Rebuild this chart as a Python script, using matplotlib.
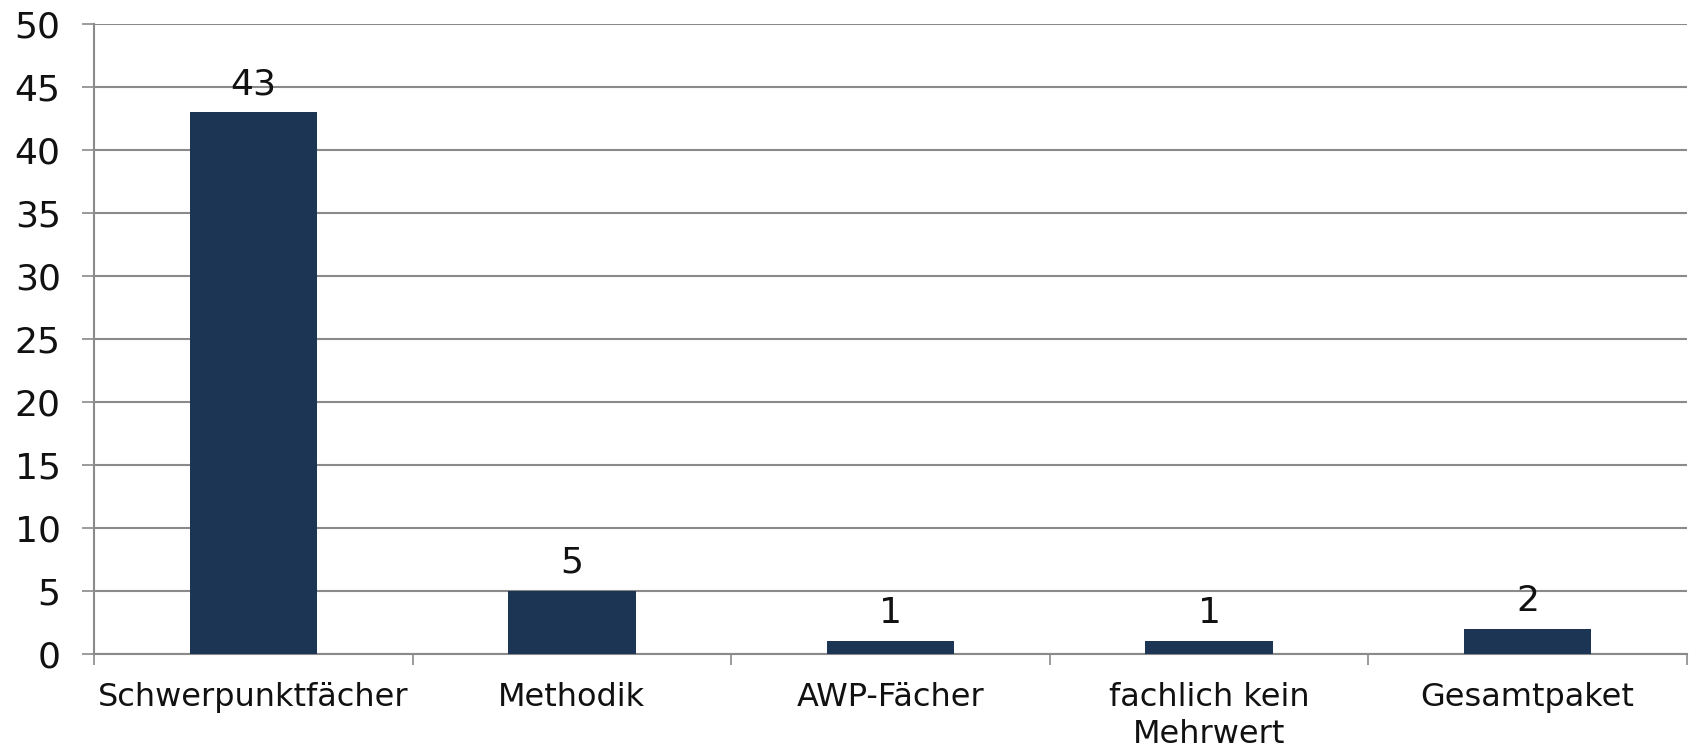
import matplotlib
matplotlib.use("Agg")
import matplotlib.pyplot as plt

categories = ["Schwerpunktfächer", "Methodik", "AWP-Fächer", "fachlich kein\nMehrwert", "Gesamtpaket"]
values = [43, 5, 1, 1, 2]
yticks = [0, 5, 10, 15, 20, 25, 30, 35, 40, 45, 50]

plt.rcParams['font.family'] = ['DejaVu Sans']
fig = plt.figure(figsize=(16.92, 7.48), dpi=100)
ax = fig.add_axes([0.0556, 0.1257, 0.9414, 0.8423])

grid_c = "#8a8a8a"
x = list(range(len(categories)))
bars = ax.bar(x, values, width=0.40, color="#1d3554", zorder=3)
for xi, v in zip(x, values):
    ax.annotate(str(v), (xi, v), xytext=(0, 8), textcoords="offset points",
                ha="center", va="bottom", fontsize=26, color="#111111")

ax.set_xlim(-0.5, len(categories) - 0.5)
ax.set_ylim(0, 50)
ax.set_yticks(yticks)
ax.yaxis.grid(True, color=grid_c, linewidth=1.5, zorder=0)
ax.tick_params(axis="y", length=9, width=1.2, color=grid_c, labelsize=26, pad=15, labelcolor="#111111")

ax.set_xticks(x)
ax.set_xticklabels(categories, fontsize=23, color="#111111", linespacing=1.25)
ax.tick_params(axis="x", which="major", length=0, pad=20)
ax.set_xticks([i - 0.5 for i in range(len(categories) + 1)], minor=True)
ax.tick_params(axis="x", which="minor", length=8, width=1.2, color=grid_c)

for s in ["top", "right"]:
    ax.spines[s].set_visible(False)
for s in ["left", "bottom"]:
    ax.spines[s].set_color(grid_c)
    ax.spines[s].set_linewidth(1.5)

fig.savefig("out.png", dpi=100)
